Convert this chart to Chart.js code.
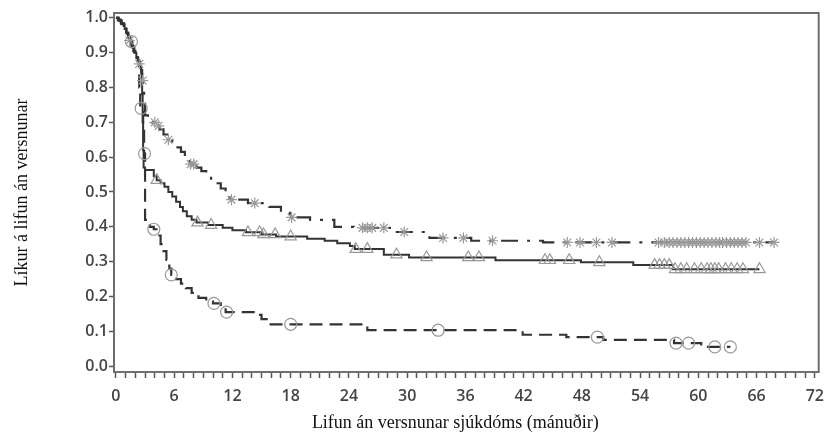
<!DOCTYPE html>
<html>
<head>
<meta charset="utf-8">
<title>Lifun án versnunar</title>
<script src="https://cdn.jsdelivr.net/npm/chart.js@4.4.0/dist/chart.umd.min.js"></script>
<style>
  html, body { margin: 0; padding: 0; background: #fff; }
  canvas { display: block; }
</style>
</head>
<body>
<canvas id="kmChart" width="833" height="432"></canvas>
<script>
// Kaplan-Meier estimates, three groups (time in months, survival after each drop)
const timesA = [0, 0.2, 0.5, 0.8, 1.0, 1.2, 1.4, 1.6, 1.8, 2.0, 2.2, 2.4, 2.6, 2.7, 2.8, 2.9, 3.0,
  3.3, 3.7, 4.1, 4.5, 4.9, 5.3, 5.8, 6.2, 6.7, 7.1, 7.6, 8.3, 8.8, 9.3, 9.8, 10.3, 10.8, 11.3, 11.7,
  13.6, 15.8, 17.0, 17.9, 20.0, 22.5, 24.5, 28.5, 32.3, 36.6, 44.0, 67.8];
const survA = [1, 0.995, 0.985, 0.972, 0.96, 0.948, 0.935, 0.92, 0.905, 0.89, 0.878, 0.868, 0.85, 0.82, 0.80, 0.76, 0.72,
  0.71, 0.70, 0.69, 0.68, 0.665, 0.65, 0.64, 0.628, 0.615, 0.60, 0.58, 0.57, 0.56, 0.55, 0.535, 0.525, 0.51, 0.495, 0.478,
  0.468, 0.457, 0.44, 0.427, 0.42, 0.40, 0.397, 0.385, 0.368, 0.36, 0.355, 0.355];

const timesB = [0, 0.3, 0.6, 0.9, 1.1, 1.3, 1.5, 1.7, 1.9, 2.1, 2.3, 2.5, 2.6, 2.7, 2.75, 2.8, 2.85, 3.0,
  3.9, 4.2, 4.6, 5.0, 5.4, 5.8, 6.2, 6.6, 6.9, 7.3, 7.8, 8.3, 9.5, 11.0, 12.0, 13.4, 15.0, 16.5, 19.7,
  21.5, 22.8, 24.1, 24.6, 27.6, 30.2, 39.1, 47.9, 53.3, 57.4, 66.3];
const survB = [1, 0.992, 0.982, 0.968, 0.955, 0.943, 0.93, 0.915, 0.9, 0.885, 0.873, 0.862, 0.84, 0.78, 0.70, 0.62, 0.57, 0.563,
  0.545, 0.534, 0.525, 0.515, 0.50, 0.487, 0.472, 0.457, 0.445, 0.43, 0.42, 0.412, 0.405, 0.397, 0.39, 0.384, 0.378, 0.372, 0.366,
  0.36, 0.353, 0.345, 0.336, 0.32, 0.312, 0.304, 0.298, 0.29, 0.278, 0.278];

const timesC = [0, 0.25, 0.55, 0.85, 1.05, 1.25, 1.45, 1.65, 1.85, 2.05, 2.25, 2.4, 2.5, 2.8, 2.9, 3.0,
  3.5, 3.9, 4.3, 4.6, 4.9, 5.2, 5.5, 5.7, 6.2, 6.7, 7.2, 7.8, 8.5, 9.3, 10.0, 10.8, 11.3, 14.4, 15.0, 15.7,
  25.9, 41.9, 46.4, 50.2, 57.5, 60.3, 63.3];
const survC = [1, 0.993, 0.983, 0.97, 0.958, 0.946, 0.932, 0.917, 0.902, 0.887, 0.875, 0.80, 0.74, 0.68, 0.61, 0.42,
  0.40, 0.393, 0.375, 0.35, 0.33, 0.305, 0.28, 0.262, 0.25, 0.237, 0.224, 0.21, 0.196, 0.185, 0.18, 0.168, 0.155, 0.147, 0.135, 0.12,
  0.103, 0.09, 0.083, 0.075, 0.066, 0.055, 0.055];

// censored observations (months)
const censorA = [1.4, 2.4, 2.75, 4.0, 4.4, 5.4, 7.7, 8.0, 11.9, 14.3, 18.1, 25.4, 25.9, 26.4, 27.6, 29.7,
  33.7, 35.8, 38.8, 46.5, 47.8, 49.5, 51.1, 55.9, 56.5, 57.0, 57.4, 57.8, 58.2, 58.6, 59.0, 59.4, 59.8,
  60.2, 60.6, 61.0, 61.4, 61.8, 62.2, 62.5, 62.9, 63.3, 63.7, 64.1, 64.5, 64.9, 66.3, 67.8];
const censorB = [4.2, 8.4, 9.8, 13.6, 14.8, 15.2, 16.4, 18.0, 24.7, 25.9, 28.9, 32.0, 36.3, 37.4, 44.2,
  44.7, 46.7, 49.8, 55.5, 56.0, 56.5, 57.0, 57.6, 58.2, 58.8, 59.6, 60.3, 60.9, 61.3, 61.7, 62.1, 62.8,
  63.4, 64.0, 64.6, 66.3];
const censorC = [1.6, 2.6, 2.95, 3.9, 5.7, 10.1, 11.4, 18.0, 33.2, 49.6, 57.7, 59.0, 61.7, 63.3];

const xTickLabels = [0, 6, 12, 18, 24, 30, 36, 42, 48, 54, 60, 66, 72];
const yTicks = [0.0, 0.1, 0.2, 0.3, 0.4, 0.5, 0.6, 0.7, 0.8, 0.9, 1.0];
const xTitle = 'Lifun án versnunar sjúkdóms (mánuðir)';
const yTitle = 'Líkur á lifun án versnunar';

const monthTicks = [];
for (let m = 0; m <= 72; m++) monthTicks.push(m);

function stepPoints(times, surv) {
  return times.map((t, i) => ({ x: t, y: surv[i] }));
}

function survivalAt(times, surv, t) {
  let s = surv[0];
  for (let i = 0; i < times.length; i++) {
    if (times[i] <= t) s = surv[i];
  }
  return s;
}

function censorPoints(censor, times, surv) {
  return censor.map(t => ({ x: t, y: survivalAt(times, surv, t) }));
}

const lineColor = '#333';
const markColor = '#999';
const tickFont = { family: 'Open Sans', size: 16, weight: '600' };

// box around the plot area
const frame = {
  id: 'frame',
  afterDraw(chart) {
    const { ctx, chartArea: a } = chart;
    ctx.save();
    ctx.strokeStyle = '#6e6e6e';
    ctx.lineWidth = 2;
    ctx.strokeRect(a.left, a.top, a.right - a.left, a.bottom - a.top);
    ctx.restore();
  }
};

// serif axis titles
const axisTitles = {
  id: 'axisTitles',
  afterDraw(chart) {
    const { ctx, chartArea: a } = chart;
    ctx.save();
    ctx.fillStyle = '#111';
    ctx.font = '18px "Liberation Serif"';
    ctx.textAlign = 'center';
    ctx.textBaseline = 'alphabetic';
    ctx.fillText(xTitle, (a.left + a.right) / 2 - 11, 428);
    ctx.translate(27, (a.top + a.bottom) / 2);
    ctx.rotate(-Math.PI / 2);
    ctx.fillText(yTitle, 0, 0);
    ctx.restore();
  }
};

new Chart(document.getElementById('kmChart'), {
  type: 'line',
  data: {
    datasets: [
      {
        type: 'scatter', data: censorPoints(censorA, timesA, survA),
        pointStyle: 'star', pointRadius: 5.5, borderColor: markColor, borderWidth: 1.2, showLine: false
      },
      {
        type: 'scatter', data: censorPoints(censorB, timesB, survB),
        pointStyle: 'triangle', pointRadius: 6.5, borderColor: markColor, backgroundColor: 'rgba(0,0,0,0)',
        borderWidth: 1.2, showLine: false
      },
      {
        type: 'scatter', data: censorPoints(censorC, timesC, survC),
        pointStyle: 'circle', pointRadius: 6, borderColor: markColor, backgroundColor: 'rgba(0,0,0,0)',
        borderWidth: 1.2, showLine: false
      },
      {
        data: stepPoints(timesA, survA), stepped: 'before', borderColor: lineColor, borderWidth: 2.2,
        borderDash: [17, 9, 3, 9], pointRadius: 0, fill: false
      },
      {
        data: stepPoints(timesB, survB), stepped: 'before', borderColor: lineColor, borderWidth: 2,
        pointRadius: 0, fill: false
      },
      {
        data: stepPoints(timesC, survC), stepped: 'before', borderColor: lineColor, borderWidth: 2.2,
        borderDash: [13, 7], pointRadius: 0, fill: false
      }
    ]
  },
  options: {
    responsive: false,
    animation: false,
    layout: { padding: { top: 13, right: 6, left: 0, bottom: 0 } },
    plugins: {
      legend: { display: false },
      tooltip: { enabled: false }
    },
    scales: {
      x: {
        type: 'linear',
        min: -0.2,
        max: 72.4,
        afterBuildTicks: scale => { scale.ticks = monthTicks.map(v => ({ value: v })); },
        afterFit: scale => { scale.height = 60; },
        ticks: {
          autoSkip: false,
          maxRotation: 0,
          padding: 9,
          font: tickFont,
          color: '#444',
          callback: value => xTickLabels.includes(value) ? String(value) : ''
        },
        grid: {
          drawOnChartArea: false,
          tickLength: 6,
          tickColor: '#555',
          tickWidth: 1.5
        },
        border: { display: false }
      },
      y: {
        type: 'linear',
        min: -0.017,
        max: 1.014,
        afterBuildTicks: scale => { scale.ticks = yTicks.map(v => ({ value: v })); },
        afterFit: scale => { scale.width = 114; },
        ticks: {
          padding: 1,
          font: tickFont,
          color: '#444',
          callback: value => value.toFixed(1)
        },
        grid: {
          drawOnChartArea: false,
          tickLength: 5,
          tickColor: '#555',
          tickWidth: 1.5
        },
        border: { display: false }
      }
    }
  },
  plugins: [frame, axisTitles]
});
</script>
</body>
</html>
